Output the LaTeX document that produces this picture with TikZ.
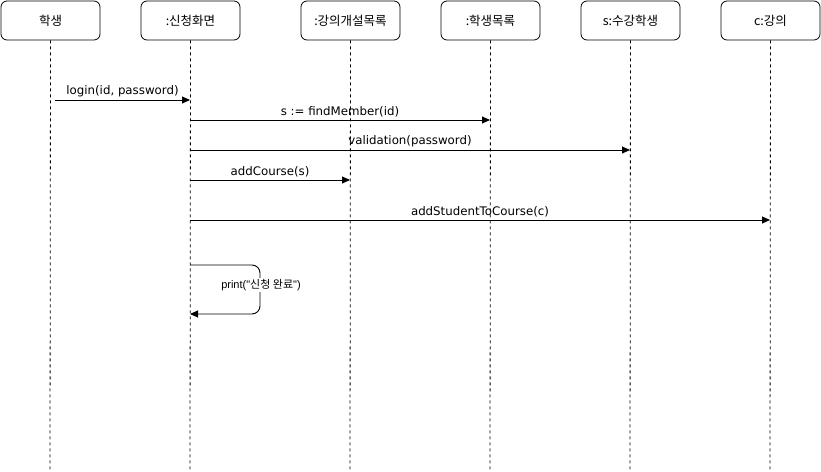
\documentclass[tikz,border=0pt]{standalone}
\usepackage{fontspec}
\setmainfont{DejaVu Sans}
\newfontfamily\kr{Noto Sans CJK KR}
\newfontfamily\arialf{Liberation Sans}
\usetikzlibrary{arrows.meta}
\begin{document}
\begin{tikzpicture}[x=1pt,y=-1pt,
  obj/.style={draw, line width=0.8pt, rounded corners=6pt, minimum width=99pt, minimum height=39pt, inner sep=0pt, font=\kr\fontsize{12.5}{14}\selectfont},
  life/.style={line width=0.8pt, dash pattern=on 3pt off 3pt},
  msg/.style={line width=0.9pt, -{Triangle[length=8pt,width=7pt]}},
  lbl/.style={font=\fontsize{11.8}{13}\selectfont, inner sep=2.5pt, above}
]
\useasboundingbox (0,0) rectangle (821,471);
\node[obj] (o1) at (50.5,20.5) {학생};
\node[obj] (o2) at (190.5,20.5) {:신청화면};
\node[obj] (o3) at (350.5,20.5) {:강의개설목록};
\node[obj] (o4) at (490.5,20.5) {:학생목록};
\node[obj] (o5) at (630.5,20.5) {s:수강학생};
\node[obj] (o6) at (770.5,20.5) {c:강의};
\foreach \i/\x in {1/50,2/190,3/350,4/490,5/630,6/770}{
  \coordinate (e\i) at (\x,471);
  \draw[life] (o\i.south) -- (\x,471);
}
% message endpoints
\coordinate (m1s) at (55,100);  \coordinate (m1e) at (190,100);
\coordinate (m2s) at (190,120); \coordinate (m2e) at (490,120);
\coordinate (m3s) at (190,150); \coordinate (m3e) at (630,150);
\coordinate (m4s) at (190,180); \coordinate (m4e) at (350,180);
\coordinate (m5s) at (190,220); \coordinate (m5e) at (770,220);
\coordinate (m6s) at (190,265); \coordinate (m6a) at (260,265);
\coordinate (m6b) at (260,314); \coordinate (m6e) at (190,314);
\draw[msg] (m1s) -- node[lbl] {login(id, password)} (m1e);
\draw[msg] (m2s) -- node[lbl] {s := findMember(id)} (m2e);
\draw[msg] (m3s) -- node[lbl] {validation(password)} (m3e);
\draw[msg] (m4s) -- node[lbl] {addCourse(s)} (m4e);
\draw[msg] (m5s) -- node[lbl] {addStudentToCourse(c)} (m5e);
\draw[msg, rounded corners=8pt] (m6s) -- (m6a) -- (m6b) -- (m6e);
\node[fill=white, inner sep=1pt, font=\arialf\fontsize{11}{12}\selectfont] (p) at (261,285) {print("{\kr 신청 완료}")};
\end{tikzpicture}
\end{document}
